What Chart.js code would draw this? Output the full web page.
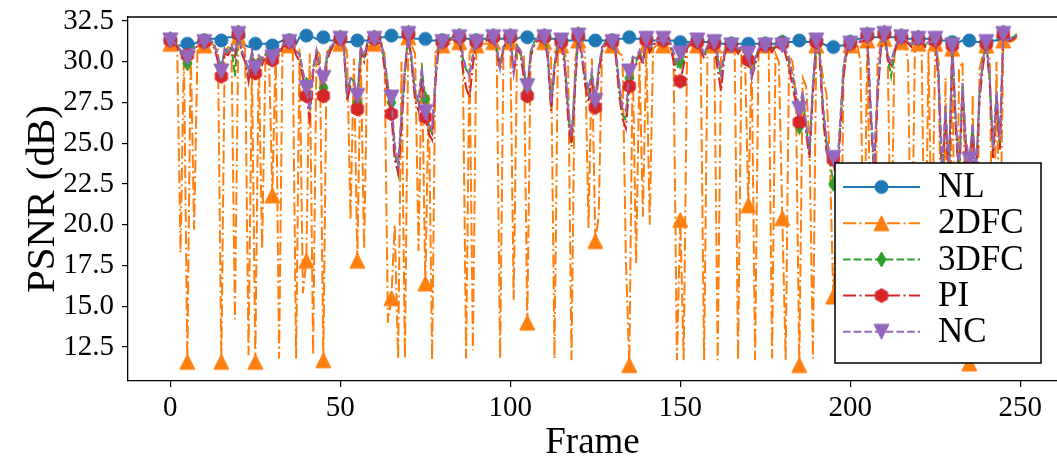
<!DOCTYPE html>
<html>
<head>
<meta charset="utf-8">
<script src="https://cdn.jsdelivr.net/npm/chart.js@4.4.1/dist/chart.umd.min.js"></script>
<style>
  html, body { margin: 0; padding: 0; background: #fff; overflow: hidden; }
  #wrap { width: 1057px; height: 468px; }
</style>
</head>
<body>
<div id="wrap"><canvas id="psnr" width="1057" height="468"></canvas></div>
<script>
// ── Data (PSNR per frame, dB) ──
const frames = Array.from({length: 250}, (_, i) => i);
const xTicks = [0, 50, 100, 150, 200, 250];
const yTicks = [12.5, 15.0, 17.5, 20.0, 22.5, 25.0, 27.5, 30.0, 32.5];
const seriesNames = ['NL', '2DFC', '3DFC', 'PI', 'NC'];

const nl = [
  31.3,31.2,31.0,31.0,30.9,31.1,31.0,31.1,31.2,31.2,
  31.3,31.3,31.4,31.4,31.5,31.3,31.4,31.5,31.5,31.5,
  31.6,31.2,31.0,30.9,31.0,31.1,31.0,31.1,31.1,31.1,
  31.0,31.1,31.2,31.3,31.3,31.3,31.3,31.1,31.5,31.5,
  31.6,31.5,31.5,31.4,31.5,31.5,31.4,31.3,31.3,31.4,
  31.4,31.3,31.2,31.2,31.2,31.3,31.3,31.3,31.3,31.3,
  31.4,31.4,31.5,31.5,31.6,31.6,31.5,31.5,31.5,31.6,
  31.7,31.5,31.4,31.4,31.4,31.4,31.3,31.3,31.3,31.3,
  31.3,31.3,31.4,31.4,31.4,31.5,31.4,31.4,31.4,31.3,
  31.3,31.3,31.4,31.4,31.5,31.5,31.4,31.4,31.4,31.5,
  31.5,31.4,31.4,31.5,31.5,31.5,31.4,31.4,31.4,31.4,
  31.5,31.4,31.4,31.4,31.3,31.3,31.3,31.3,31.3,31.4,
  31.5,31.4,31.3,31.3,31.3,31.3,31.3,31.3,31.3,31.3,
  31.3,31.3,31.4,31.4,31.5,31.5,31.4,31.4,31.4,31.4,
  31.4,31.3,31.3,31.3,31.3,31.3,31.3,31.3,31.3,31.2,
  31.2,31.2,31.2,31.2,31.3,31.3,31.2,31.2,31.2,31.2,
  31.2,31.2,31.1,31.1,31.1,31.1,31.1,31.1,31.1,31.1,
  31.1,31.1,31.1,31.1,31.1,31.1,31.1,31.1,31.1,31.1,
  31.2,31.2,31.2,31.2,31.3,31.3,31.3,31.2,31.2,31.2,
  31.3,31.2,31.1,31.0,31.0,30.9,30.9,31.0,31.0,31.1,
  31.2,31.3,31.4,31.4,31.5,31.6,31.5,31.5,31.5,31.6,
  31.7,31.6,31.5,31.5,31.5,31.5,31.5,31.4,31.4,31.4,
  31.4,31.4,31.4,31.4,31.4,31.4,31.3,31.3,31.3,31.2,
  31.2,31.2,31.2,31.3,31.3,31.3,31.3,31.2,31.2,31.2,
  31.2,31.2,31.3,31.3,31.4,31.5,31.4,31.4,31.5,31.6
];

const fc2 = [
  31.1,31.0,31.0,18.3,30.6,11.6,30.8,19.7,30.9,31.0,
  31.0,31.0,31.1,31.0,30.8,11.6,30.5,30.9,30.8,14.2,
  31.5,31.0,30.8,12.0,30.0,11.6,30.4,18.5,30.5,30.6,
  21.8,30.8,11.8,30.9,31.0,31.0,30.9,11.8,30.8,15.8,
  17.8,30.5,12.0,30.8,30.4,11.7,30.6,30.8,31.0,31.0,
  31.1,30.9,30.5,20.3,30.2,17.8,30.6,18.5,30.9,31.0,
  31.1,31.0,31.0,30.5,14.0,15.5,20.0,11.8,30.0,11.8,
  31.5,31.0,30.5,18.4,30.0,16.4,28.0,11.7,30.5,31.0,
  31.0,31.1,31.1,31.2,31.1,31.2,30.8,11.8,30.5,12.3,
  31.0,31.0,31.1,31.1,31.1,31.2,30.6,11.8,30.8,31.0,
  31.2,15.4,30.8,30.6,30.5,14.0,30.6,31.0,31.1,31.1,
  31.2,30.8,30.2,11.8,30.8,31.0,30.5,30.0,11.7,30.0,
  31.3,31.0,30.5,19.8,30.2,19.0,20.5,30.9,31.0,31.0,
  31.0,31.0,30.5,30.4,17.8,11.4,30.2,17.6,30.0,20.5,
  31.0,20.0,30.8,31.0,31.0,31.0,31.0,30.9,30.5,11.7,
  20.3,11.7,30.8,31.0,31.0,31.0,30.5,11.7,30.6,30.8,
  31.0,11.7,30.5,30.8,30.9,31.0,30.6,11.7,30.6,30.8,
  21.2,30.2,11.7,30.6,30.9,31.0,30.7,11.8,30.5,30.0,
  20.4,11.7,30.4,30.0,28.0,11.4,29.0,28.5,25.0,11.8,
  31.0,30.5,29.0,28.0,24.0,15.6,20.0,11.5,29.0,30.6,
  31.0,31.0,31.1,30.0,16.0,31.3,18.0,13.0,30.0,31.0,
  31.4,30.5,17.0,30.8,31.1,31.2,31.1,30.0,15.0,30.8,
  31.1,30.8,14.5,30.6,18.0,31.1,30.0,13.0,29.0,12.5,
  30.8,12.0,29.5,30.0,20.0,11.5,28.0,12.5,29.5,30.5,
  31.0,30.5,13.5,30.0,17.0,31.3,31.1,31.2,31.3,31.5
];

const fc3 = [
  31.4,31.2,31.0,30.6,30.3,29.9,30.8,30.9,31.1,31.2,
  31.3,31.2,31.3,31.0,30.2,29.6,30.8,30.5,30.9,29.1,
  31.8,30.6,30.2,29.2,30.6,29.7,30.3,30.0,30.4,30.6,
  30.3,30.8,30.6,31.0,31.2,31.3,31.2,30.6,30.5,29.3,
  28.6,27.0,29.6,30.6,29.5,28.4,30.2,30.8,31.1,31.3,
  31.5,31.0,28.0,29.0,28.8,27.5,30.8,30.3,31.2,31.3,
  31.5,31.3,31.2,30.0,28.5,27.5,24.5,23.2,26.5,29.5,
  31.8,30.0,28.0,27.5,29.5,27.7,26.0,25.6,29.0,31.1,
  31.3,31.3,31.4,31.5,31.4,31.6,30.2,29.5,29.3,30.3,
  31.3,31.2,31.4,31.4,31.5,31.6,30.8,29.8,30.9,31.3,
  31.6,29.5,31.0,30.6,29.5,28.2,30.6,31.2,31.4,31.4,
  31.6,30.5,27.2,29.8,31.0,31.3,30.0,27.0,25.0,28.5,
  31.7,30.5,29.0,28.0,29.2,27.8,29.5,30.8,31.2,31.2,
  31.3,30.6,28.5,26.8,26.4,29.0,30.2,30.0,30.6,30.0,
  31.4,30.8,31.1,31.3,31.3,31.4,31.3,31.2,30.4,29.6,
  30.0,30.4,31.0,31.2,31.3,31.3,30.8,30.4,30.9,31.1,
  31.2,30.2,29.0,30.6,31.0,31.1,31.0,30.7,30.9,30.6,
  30.3,29.3,30.0,30.8,31.0,31.1,31.0,30.8,31.0,31.1,
  31.2,30.6,30.0,29.0,28.0,26.0,28.0,26.0,24.4,28.5,
  31.3,30.5,27.0,25.0,24.0,22.5,22.8,26.0,29.5,30.8,
  31.2,31.3,31.4,31.3,31.4,31.7,27.0,23.5,28.0,31.0,
  31.8,30.3,29.1,30.5,31.3,31.6,31.4,31.2,31.0,31.2,
  31.5,31.3,31.0,31.2,31.1,31.4,29.0,23.0,27.0,23.2,
  31.1,26.5,23.0,28.5,25.0,23.8,26.0,23.0,28.0,30.0,
  31.2,29.0,24.5,28.0,25.0,31.8,31.3,31.4,31.5,31.7
];

const pi = [
  31.3,31.1,30.9,30.5,30.4,30.4,30.7,30.6,31.0,31.1,
  31.2,31.2,31.2,30.8,30.0,29.1,30.5,30.4,30.8,30.3,
  31.7,30.5,30.0,28.8,30.4,29.3,30.1,29.8,30.3,30.5,
  30.1,30.6,30.4,30.9,31.1,31.2,31.1,30.4,30.0,29.0,
  27.9,26.5,29.3,30.5,29.2,27.9,30.0,30.6,31.0,31.2,
  31.4,30.9,27.6,28.5,28.4,27.1,30.6,30.0,31.1,31.2,
  31.4,31.2,31.1,29.6,28.0,26.8,24.0,23.2,26.0,29.2,
  31.7,29.8,27.6,27.0,29.0,26.6,25.6,25.2,28.8,31.0,
  31.2,31.2,31.3,31.4,31.3,31.5,29.6,28.4,27.8,29.8,
  31.2,31.1,31.3,31.3,31.4,31.5,30.6,29.5,30.8,31.2,
  31.5,29.2,30.9,30.4,29.0,27.9,30.3,31.0,31.3,31.3,
  31.5,30.2,27.0,29.5,30.9,31.2,29.6,26.5,24.8,28.2,
  31.6,30.3,28.6,27.5,28.9,27.2,29.2,30.6,31.1,31.1,
  31.2,30.4,28.0,26.5,25.9,28.5,30.0,29.8,30.4,29.8,
  31.3,30.6,31.0,31.2,31.2,31.3,31.2,31.1,30.0,28.6,
  28.8,29.8,30.9,31.1,31.2,31.2,30.7,30.2,30.8,31.0,
  31.1,29.5,28.2,30.4,30.9,31.0,30.9,30.5,30.8,30.4,
  30.1,29.0,29.8,30.6,30.9,31.0,30.9,30.6,30.9,31.0,
  31.1,30.4,29.6,28.5,27.5,26.3,27.6,25.6,24.1,28.0,
  31.2,30.2,26.5,24.5,23.8,24.0,22.5,25.5,29.2,30.6,
  31.1,31.2,31.3,31.2,31.3,31.6,26.5,23.2,27.6,30.8,
  31.7,30.1,29.8,30.6,31.2,31.5,31.3,31.1,30.9,31.1,
  31.4,31.2,30.9,31.1,31.0,31.3,28.6,22.6,26.6,22.8,
  31.0,26.0,22.6,28.1,24.6,23.6,25.6,22.6,27.6,29.7,
  31.1,28.7,24.1,27.6,24.6,31.7,31.2,31.3,31.4,31.6
];

const nc = [
  31.3,31.2,31.0,30.7,30.5,30.25,30.8,30.8,31.1,31.2,
  31.2,31.2,31.3,31.0,30.4,29.4,30.9,30.6,31.0,30.6,
  31.7,30.7,30.3,29.4,30.7,29.6,30.4,30.2,30.5,30.7,
  30.25,30.8,30.7,31.0,31.2,31.2,31.2,30.7,30.4,29.4,
  28.4,27.0,29.6,30.7,29.6,29.0,30.3,30.9,31.1,31.3,
  31.4,31.0,28.2,29.0,28.9,27.9,30.9,30.4,31.2,31.3,
  31.4,31.3,31.2,30.2,28.6,27.8,25.0,23.7,26.8,29.7,
  31.7,30.2,28.2,27.6,29.6,26.9,26.2,25.8,29.2,31.1,
  31.2,31.3,31.4,31.4,31.4,31.5,30.4,29.6,29.1,30.5,
  31.2,31.2,31.4,31.4,31.5,31.5,30.9,29.6,31.0,31.3,
  31.5,29.3,31.0,30.7,29.6,28.5,30.6,31.2,31.4,31.4,
  31.5,30.6,27.5,29.9,31.0,31.3,30.2,27.3,25.4,28.8,
  31.6,30.6,29.2,28.3,29.4,27.6,29.7,30.9,31.2,31.2,
  31.2,30.8,28.8,27.2,27.0,29.4,30.3,30.2,30.7,30.1,
  31.4,30.9,31.1,31.3,31.3,31.4,31.3,31.2,30.6,30.0,
  30.5,30.7,31.0,31.2,31.3,31.3,30.9,30.5,31.0,31.1,
  31.2,30.4,29.2,30.7,31.0,31.0,31.0,30.8,30.9,30.7,
  30.5,29.1,30.2,30.8,31.0,31.0,31.0,30.9,31.0,31.1,
  31.0,30.7,30.2,29.2,28.2,27.1,28.2,26.2,24.6,28.6,
  31.3,30.6,27.3,25.3,24.3,24.1,23.0,26.3,29.7,30.9,
  31.1,31.3,31.4,31.3,31.4,31.6,27.3,23.8,28.3,31.1,
  31.7,30.4,30.0,30.8,31.3,31.5,31.4,31.2,31.1,31.2,
  31.4,31.3,31.1,31.2,31.2,31.4,29.2,23.3,27.3,23.4,
  31.0,26.7,23.2,28.7,25.2,24.0,26.2,23.2,28.2,30.1,
  31.2,29.2,24.7,28.2,25.2,31.7,31.3,31.4,31.5,31.6
];

// ── Styles ──
const FONT = "'Liberation Serif','Times New Roman',serif";
const MARK_EVERY = 5;
const LINE_W = 2;
const DASHED = [7.5, 3.2];
const DASHDOT = [13, 3.5, 2, 3.5];

function marker(shape, color, s) {
  const cv = document.createElement('canvas');
  cv.width = cv.height = s + 4;
  const g = cv.getContext('2d');
  const c = (s + 4) / 2, r = s / 2;
  g.fillStyle = color; g.strokeStyle = color; g.lineWidth = 1;
  g.beginPath();
  if (shape === 'o') g.arc(c, c, r, 0, Math.PI * 2);
  else if (shape === '^') { g.moveTo(c, c - r); g.lineTo(c + r, c + r); g.lineTo(c - r, c + r); }
  else if (shape === 'v') { g.moveTo(c, c + r); g.lineTo(c + r, c - r); g.lineTo(c - r, c - r); }
  else if (shape === 'd') { g.moveTo(c, c - r); g.lineTo(c + 0.6 * r, c); g.lineTo(c, c + r); g.lineTo(c - 0.6 * r, c); }
  else if (shape === 'h') {
    for (let k = 0; k < 6; k++) {
      const a = -Math.PI / 2 + k * Math.PI / 3;
      g.lineTo(c + r * Math.cos(a), c + r * Math.sin(a));
    }
  }
  g.closePath(); g.fill(); g.stroke();
  return cv;
}

const looks = [
  {color: '#1f77b4', dash: [],      shape: 'o', size: 13},
  {color: '#ff7f0e', dash: DASHDOT, shape: '^', size: 15},
  {color: '#2ca02c', dash: DASHED,  shape: 'd', size: 15},
  {color: '#d62728', dash: DASHDOT, shape: 'h', size: 14},
  {color: '#9467bd', dash: DASHED,  shape: 'v', size: 15},
];
const values = [nl, fc2, fc3, pi, nc];

const datasets = seriesNames.map((name, i) => {
  const L = looks[i];
  return {
    label: name,
    data: values[i],
    borderColor: L.color,
    backgroundColor: L.color,
    borderWidth: LINE_W,
    borderDash: L.dash,
    tension: 0,
    pointStyle: marker(L.shape, L.color, L.size),
    pointRadius: c => (c.dataIndex % MARK_EVERY === 0 ? 6 : 0),
    pointHoverRadius: 0,
    order: 4 - i,   // NL at the bottom, NC on top
  };
});

// ── Top spine (right spine falls outside the crop) ──
const frameLine = {
  id: 'frameLine',
  afterDatasetsDraw(chart) {
    const {ctx, chartArea: a} = chart;
    ctx.save();
    ctx.strokeStyle = '#000'; ctx.lineWidth = 1.3;
    ctx.beginPath(); ctx.moveTo(a.left, a.top); ctx.lineTo(a.right, a.top); ctx.stroke();
    ctx.restore();
  }
};

// ── Boxed legend with line + marker samples ──
const boxLegend = {
  id: 'boxLegend',
  afterDraw(chart) {
    const c = chart.ctx;
    const x0 = 835, y0 = 163, w = 206, h = 200;
    c.save();
    c.fillStyle = '#fff'; c.fillRect(x0, y0, w, h);
    c.strokeStyle = '#000'; c.lineWidth = 1.5; c.strokeRect(x0, y0, w, h);
    chart.data.datasets.forEach((ds, i) => {
      const y = 187 + i * 36.2;
      c.strokeStyle = ds.borderColor; c.lineWidth = ds.borderWidth;
      c.setLineDash(ds.borderDash);
      c.beginPath(); c.moveTo(843, y); c.lineTo(920, y); c.stroke();
      c.setLineDash([]);
      const m = ds.pointStyle;
      c.drawImage(m, 881.5 - m.width / 2, y - m.height / 2);
      c.fillStyle = '#000';
      c.font = `35px ${FONT}`;
      c.textBaseline = 'middle';
      c.fillText(ds.label, 938, y + 1);
    });
    c.restore();
  }
};

new Chart(document.getElementById('psnr'), {
  type: 'line',
  data: {labels: frames, datasets},
  options: {
    responsive: false, animation: false, devicePixelRatio: 1, events: [],
    layout: {autoPadding: false, padding: {top: 17, right: 0, bottom: 0, left: 0}},
    plugins: {legend: {display: false}, tooltip: {enabled: false}},
    scales: {
      x: {
        type: 'linear', min: -12.45, max: 260.8,
        afterFit: s => { s.height = 87; s.paddingLeft = 0; s.paddingRight = 0; },
        afterBuildTicks: s => { s.ticks = xTicks.map(v => ({value: v})); },
        grid: {drawOnChartArea: false, drawTicks: true, tickLength: 6, color: '#000', lineWidth: 1.2},
        border: {display: true, color: '#000', width: 1.3},
        ticks: {color: '#000', font: {family: FONT, size: 29}, padding: 4, maxRotation: 0, autoSkip: false},
        title: {display: true, text: 'Frame', color: '#000', font: {family: FONT, size: 37}, padding: {top: 0, bottom: 3}}
      },
      y: {
        min: 10.42, max: 32.74,
        afterFit: s => { s.width = 128; s.paddingTop = 0; s.paddingBottom = 0; },
        afterBuildTicks: s => { s.ticks = yTicks.map(v => ({value: v})); },
        grid: {drawOnChartArea: false, drawTicks: true, tickLength: 6, color: '#000', lineWidth: 1.2},
        border: {display: true, color: '#000', width: 1.3},
        ticks: {color: '#000', font: {family: FONT, size: 29}, padding: 8, callback: v => v.toFixed(1)},
        title: {display: true, text: 'PSNR (dB)', color: '#000', font: {family: FONT, size: 41}, padding: {top: 19, bottom: 0}}
      }
    }
  },
  plugins: [frameLine, boxLegend]
});
</script>
</body>
</html>
